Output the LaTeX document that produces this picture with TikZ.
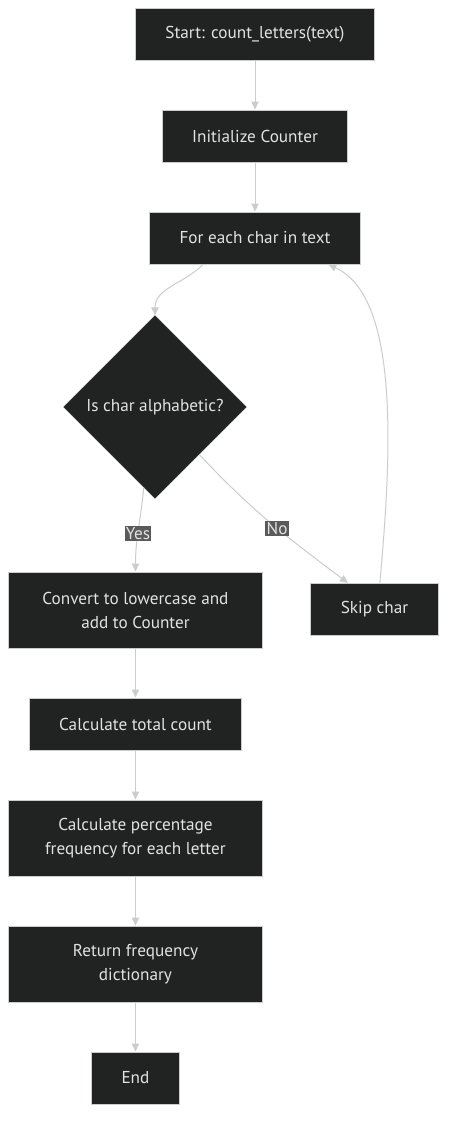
\documentclass[tikz,border=0pt]{standalone}
\usepackage{fontspec}
\setmainfont{PT Sans}
\usepackage{tikz}
\usetikzlibrary{positioning,arrows.meta,shapes.geometric}
\definecolor{colorbox} {RGB}{33,34,34}
\definecolor{colorline}{RGB}{204,204,204}
\definecolor{colortext}{RGB}{226,226,226}
\definecolor{colorlbl} {RGB}{90,90,90}

\begin{document}
\begin{tikzpicture}[
    node distance = 36.75pt,
    font={\fontsize{12.9}{18}\selectfont},
    block/.style={text=colortext,fill=colorbox,draw=colorline,line width=0.75pt,rectangle,inner xsep=22.5pt,minimum height=39pt,align=center},
    wide/.style={block,minimum width=191pt,minimum height=57pt},
    test/.style={text=colortext,fill=colorbox,draw=colorbox,diamond,aspect=1,inner sep=0pt,minimum size=137pt},
    flow/.style={draw=colorline,line width=0.75pt,-{Triangle[length=6pt,width=5.5pt]}},
    lbl/.style={fill=colorlbl,text=colortext,inner sep=1pt},
]

    \fill[white] (0,0) rectangle (339pt,-849pt);
    \useasboundingbox (0,0) rectangle (339pt,-849pt);

    % Steps
    \node[block] (start) at (191.25pt,-25.5pt) {Start: count\_letters(text)};
    \node[block, below=of start] (init) {Initialize Counter};
    \node[block, below=of init] (loop) {For each char in text};

    \node[test] (dec) at (116.25pt,-305.25pt) {Is char alphabetic?};

    \node[wide] (conv) at (101.6pt,-457.5pt) {Convert to lowercase and\\add to Counter};
    \node[block] (skip) at (280.9pt,-457.1pt) {Skip char};

    \node[block, below=of conv] (total) {Calculate total count};
    \node[wide, below=of total] (pct) {Calculate percentage\\frequency for each letter};
    \node[wide, below=of pct] (ret) {Return frequency\\dictionary};
    \node[block, below=of ret] (end) {End};

    % Step relations
    \draw[flow] (start) -- (init);
    \draw[flow] (init) -- (loop);
    \draw[flow] ([xshift=-39pt]loop.south) to[out=225,in=90] (dec.north);

    \draw[flow] (dec.-98) to[out=-95,in=90] node[lbl,pos=0.55] {Yes} (conv.north);
    \draw[flow] (dec.-47) to[out=-47,in=143] node[lbl,pos=0.55] {No} ([xshift=-20pt]skip.north);
    \draw[flow] ([xshift=4pt]skip.north) .. controls +(8pt,90pt) and +(55pt,-25pt) .. ([xshift=55pt]loop.south);

    \draw[flow] (conv) -- (total);
    \draw[flow] (total) -- (pct);
    \draw[flow] (pct) -- (ret);
    \draw[flow] (ret) -- (end);

\end{tikzpicture}
\end{document}
